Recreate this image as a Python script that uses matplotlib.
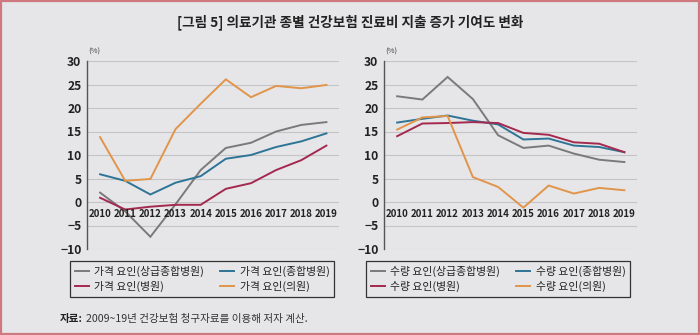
import matplotlib
matplotlib.use('Agg')
import matplotlib.pyplot as plt
from matplotlib.patches import Rectangle

plt.rcParams['font.family'] = ['Noto Sans CJK KR', 'DejaVu Sans']

years = [2010, 2011, 2012, 2013, 2014, 2015, 2016, 2017, 2018, 2019]

# price factor (left panel)
price_tertiary = [2.0, -2.0, -7.4, -0.5, 6.8, 11.5, 12.6, 15.0, 16.4, 17.0]
price_general = [5.9, 4.5, 1.6, 4.1, 5.5, 9.2, 10.0, 11.7, 12.9, 14.6]
price_hospital = [0.9, -1.6, -1.0, -0.6, -0.6, 2.8, 4.0, 6.8, 8.9, 12.0]
price_clinic = [13.8, 4.5, 4.9, 15.5, 20.9, 26.1, 22.3, 24.7, 24.2, 24.9]

# volume factor (right panel)
vol_tertiary = [22.5, 21.8, 26.6, 21.9, 14.2, 11.5, 12.0, 10.3, 9.0, 8.5]
vol_general = [16.9, 17.7, 18.4, 17.3, 16.5, 13.3, 13.5, 12.0, 11.7, 10.6]
vol_hospital = [14.0, 16.7, 16.8, 17.0, 16.8, 14.7, 14.3, 12.7, 12.4, 10.6]
vol_clinic = [15.4, 18.0, 18.3, 5.3, 3.2, -1.2, 3.5, 1.8, 3.0, 2.5]

price_labels = ['가격 요인(상급종합병원)', '가격 요인(종합병원)', '가격 요인(병원)', '가격 요인(의원)']
vol_labels = ['수량 요인(상급종합병원)', '수량 요인(종합병원)', '수량 요인(병원)', '수량 요인(의원)']
colors = ['#7a7a7a', '#2e7496', '#a3294e', '#e0954a']

bg = '#e6e6e8'
W, H = 700, 335
fig = plt.figure(figsize=(7, 3.35), dpi=100, facecolor=bg)

fig.text(350 / W, 1 - 22 / H, '[그림 5] 의료기관 종별 건강보험 진료비 지출 증가 기여도 변화',
         ha='center', va='center', fontsize=9.8, fontweight='bold', color='#222222')


def panel(x0, x1, series, labels, leg_x0, leg_x1):
    ax = fig.add_axes([x0 / W, 86 / H, (x1 - x0) / W, 188 / H])
    ax.set_facecolor(bg)
    for vals, c, lab in zip(series, colors, labels):
        ax.plot(years, vals, color=c, lw=1.4, label=lab, solid_joinstyle='miter')
    ax.set_xlim(2009.48, 2019.5)
    ax.set_ylim(-10, 30)
    ax.set_yticks(range(-10, 31, 5))
    ax.set_yticklabels([str(v) if v >= 0 else '−' + str(-v) for v in range(-10, 31, 5)],
                       fontsize=8.7, fontweight='bold', color='#222222')
    ax.tick_params(axis='y', length=0, pad=4)
    ax.set_xticks([])
    ax.grid(axis='y', color='#c4c4c6', lw=0.8)
    ax.set_axisbelow(True)
    for s in ['top', 'right', 'bottom']:
        ax.spines[s].set_visible(False)
    ax.spines['left'].set_color('#555555')
    ax.spines['left'].set_linewidth(1.0)
    for yr in years:
        ax.text(yr, -2.6, str(yr), ha='center', va='center', fontsize=7,
                fontweight='bold', color='#222222')
    ax.text(0.005, 1.03, '(%)', transform=ax.transAxes, fontsize=5.5, color='#444444',
            ha='left', va='bottom')
    h, l = ax.get_legend_handles_labels()
    order = [0, 2, 1, 3]
    leg = fig.legend([h[i] for i in order], [l[i] for i in order], ncol=2,
                     loc='center', bbox_to_anchor=((leg_x0 + leg_x1) / 2 / W, 1 - 279 / H),
                     fontsize=7.8, frameon=True, fancybox=False, edgecolor='#333333',
                     facecolor=bg, framealpha=1, handlelength=1.3, columnspacing=1.5,
                     handletextpad=0.5, borderpad=0.45, borderaxespad=0,
                     labelspacing=0.35)
    leg.get_frame().set_linewidth(0.9)
    for t in leg.get_texts():
        t.set_color('#222222')
    return ax


panel(87, 339, [price_tertiary, price_general, price_hospital, price_clinic], price_labels, 72, 332)
panel(384, 637, [vol_tertiary, vol_general, vol_hospital, vol_clinic], vol_labels, 368, 628)

src_y = 1 - 319 / H
t1 = fig.text(60 / W, src_y, '자료:', ha='left', va='center', fontsize=7.6,
              fontweight='bold', color='#222222')
fig.canvas.draw()
bb = t1.get_window_extent()
fig.text(bb.x1 / W + 3 / W, src_y, '2009~19년 건강보험 청구자료를 이용해 저자 계산.',
         ha='left', va='center', fontsize=7.6, color='#333333')

fig.patches.append(Rectangle((0.001, 0.002), 0.997, 0.995, transform=fig.transFigure,
                             fill=False, edgecolor='#d07880', lw=1.6))

fig.savefig('out.png', dpi=100, facecolor=bg)
